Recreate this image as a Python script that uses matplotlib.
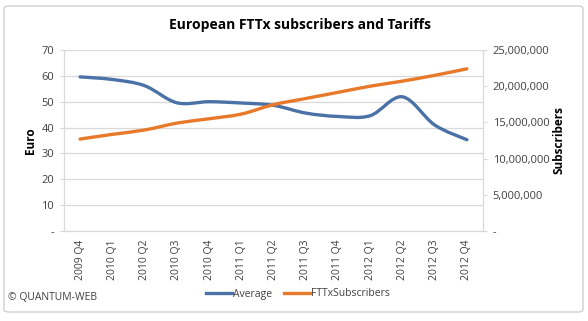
import numpy as np
import matplotlib.pyplot as plt
from matplotlib.path import Path
from matplotlib.patches import PathPatch, FancyBboxPatch
from matplotlib.lines import Line2D
from matplotlib.ticker import FuncFormatter

# -------------------- Data --------------------
quarters = ['2009 Q4', '2010 Q1', '2010 Q2', '2010 Q3', '2010 Q4', '2011 Q1', '2011 Q2',
            '2011 Q3', '2011 Q4', '2012 Q1', '2012 Q2', '2012 Q3', '2012 Q4']
average = [59.6, 58.6, 56.2, 49.6, 50.0, 49.5, 48.6, 45.6, 44.3, 44.6, 51.9, 41.0, 35.3]
subscribers = [12.7e6, 13.35e6, 13.95e6, 14.9e6, 15.5e6, 16.15e6, 17.45e6,
               18.3e6, 19.15e6, 20.0e6, 20.7e6, 21.5e6, 22.4e6]

blue = '#4A72A6'
orange = '#E8792A'
grid = '#D9D9D9'
txt = '#404040'

plt.rcParams['font.family'] = ['Open Sans', 'DejaVu Sans']


def smooth_path(xs, ys):
    # Excel style smoothed line: Bezier through every point (Catmull-Rom control points)
    pts = np.column_stack([xs, ys]).astype(float)
    n = len(pts)
    verts = [pts[0]]
    codes = [Path.MOVETO]
    for i in range(n - 1):
        p0 = pts[max(i - 1, 0)]
        p1 = pts[i]
        p2 = pts[i + 1]
        p3 = pts[min(i + 2, n - 1)]
        c1 = p1 + (p2 - p0) / 6.0
        c2 = p2 - (p3 - p1) / 6.0
        verts += [c1, c2, p2]
        codes += [Path.CURVE4] * 3
    return Path(verts, codes)


# -------------------- Figure --------------------
fig = plt.figure(figsize=(5.88, 3.21), dpi=100)
fig.patches.append(FancyBboxPatch((4 / 588, 9 / 321), 579 / 588, 306 / 321,
                                  boxstyle='round,pad=0,rounding_size=0.008',
                                  transform=fig.transFigure, fill=False,
                                  edgecolor='#D0D0D0', linewidth=1))

ax = fig.add_axes([64 / 588, 1 - 231 / 321, 419 / 588, 181 / 321])
ax2 = ax.twinx()

x = np.arange(len(quarters))
ax.set_xlim(-0.5, len(quarters) - 0.5)
ax.set_ylim(0, 70)
ax2.set_ylim(0, 25e6)

ax.set_yticks(range(0, 71, 10))
ax2.set_yticks(np.arange(0, 25e6 + 1, 5e6))
ax.yaxis.set_major_formatter(FuncFormatter(lambda v, p: '-' if v == 0 else '%d' % v))
ax2.yaxis.set_major_formatter(FuncFormatter(lambda v, p: '-' if v == 0 else format(int(v), ',')))

ax.set_xticks(x)
ax.set_xticklabels(quarters, rotation=90, fontsize=7.5, color=txt)
ax.tick_params(axis='x', length=0, pad=6)
ax.tick_params(axis='y', length=3, color=grid, labelsize=8, labelcolor=txt, pad=4)
ax2.tick_params(axis='y', length=3, color=grid, labelsize=8, labelcolor=txt, pad=4)

ax.grid(axis='y', color=grid, linewidth=0.9)
ax.set_axisbelow(True)
for a in (ax, ax2):
    a.spines['top'].set_visible(False)
    for s in ('left', 'right', 'bottom'):
        a.spines[s].set_color(grid)

ax.add_patch(PathPatch(smooth_path(x, average), fill=False, edgecolor=blue,
                       linewidth=2.4, capstyle='round', zorder=3))
ax2.add_patch(PathPatch(smooth_path(x, subscribers), fill=False, edgecolor=orange,
                        linewidth=2.4, capstyle='round', zorder=3))

ax.set_ylabel('Euro', fontsize=8.5, fontweight='bold', color='black', labelpad=3)
ax2.set_ylabel('Subscribers', fontsize=8.5, fontweight='bold', color='black',
               rotation=90, labelpad=2)

fig.text(0.51, 1 - 25 / 321, 'European FTTx subscribers and Tariffs', ha='center',
         va='center', fontsize=10, fontweight='bold', color='black')

handles = [Line2D([], [], color=blue, linewidth=2.4),
           Line2D([], [], color=orange, linewidth=2.4)]
fig.legend(handles, ['Average', 'FTTxSubscribers'], loc='center',
           bbox_to_anchor=(298 / 588, 1 - 294 / 321), ncol=2, frameon=False,
           fontsize=7.5, handlelength=2.5, handletextpad=0.1, columnspacing=1.2,
           labelcolor=txt)

fig.text(8 / 588, 1 - 297 / 321, '© QUANTUM-WEB', ha='left', va='center',
         fontsize=7.5, color=txt)

fig.savefig('out.png', dpi=100)
